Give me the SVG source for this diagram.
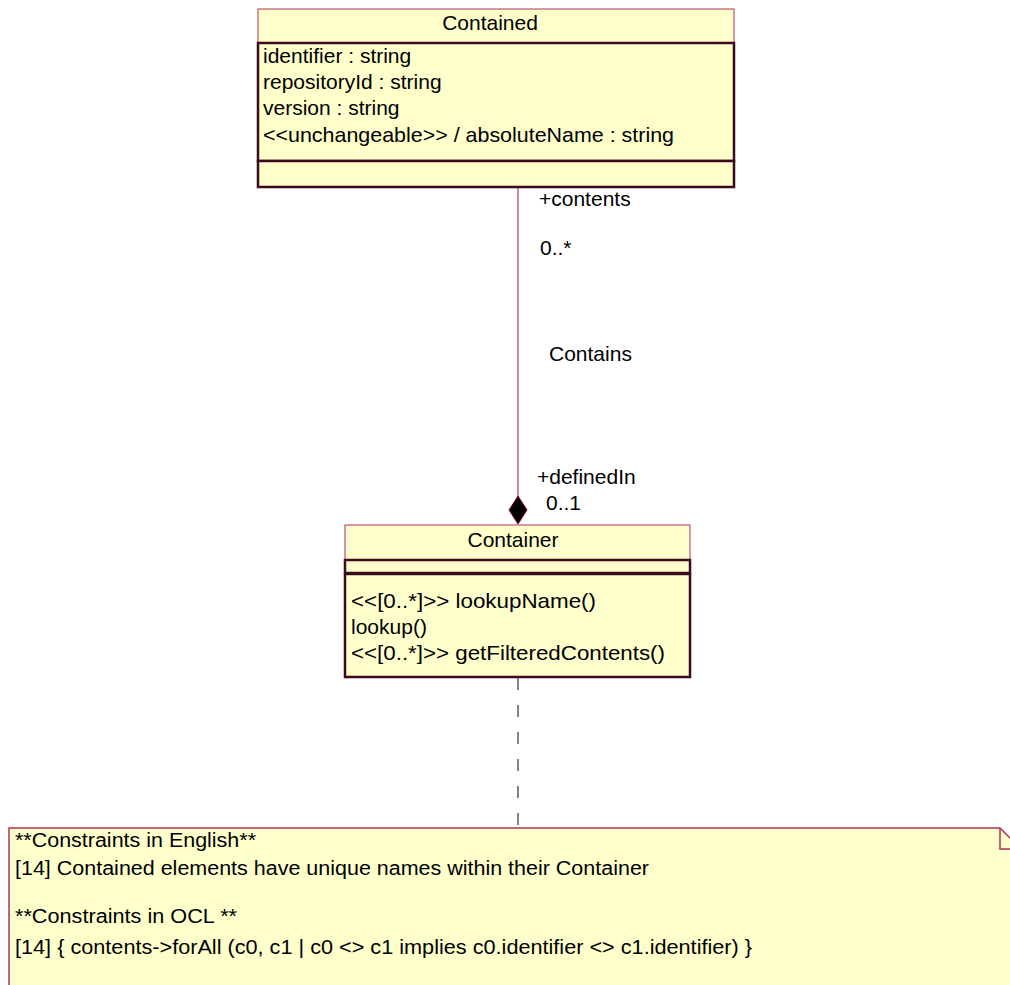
<svg xmlns="http://www.w3.org/2000/svg" width="1010" height="985" viewBox="0 0 1010 985">
  <style>
    .txt { font-family: "Liberation Sans", Arial, sans-serif; font-size: 21px; fill: #000; }
    .note { font-family: "Liberation Sans", Arial, sans-serif; font-size: 20px; fill: #000; }
    .hdr { fill: #ffffcc; stroke: #b0305a; stroke-width: 1; }
    .comp { fill: #ffffcc; stroke: #3c0a1e; stroke-width: 2.5; }
    .assoc { stroke: #c0608a; stroke-width: 1.5; fill: none; }
    .dash { stroke: #333; stroke-width: 1.2; stroke-dasharray: 12 15; fill: none; }
  </style>
  <rect width="1010" height="985" fill="#ffffff"/>

  <!-- connectors -->
  <g id="connectors">
    <line class="assoc" x1="518" y1="187" x2="518" y2="497"/>
    <polygon points="518,496 527,510 518,524 509,510" fill="#000" stroke="#800030" stroke-width="1"/>
    <line class="dash" x1="518" y1="678" x2="518" y2="828"/>
    <text class="txt" x="539" y="206">+contents</text>
    <text class="txt" x="540" y="255">0..*</text>
    <text class="txt" x="549" y="361">Contains</text>
    <text class="txt" x="537" y="484">+definedIn</text>
    <text class="txt" x="546" y="510">0..1</text>
  </g>

  <!-- class Contained -->
  <g id="contained">
    <rect class="hdr" x="258" y="9" width="476" height="34"/>
    <rect class="comp" x="258" y="43" width="476" height="118"/>
    <rect class="comp" x="258" y="161" width="476" height="26"/>
    <text class="txt" x="490" y="30" text-anchor="middle">Contained</text>
    <text class="txt" x="263" y="63">identifier : string</text>
    <text class="txt" x="263" y="89">repositoryId : string</text>
    <text class="txt" x="263" y="115">version : string</text>
    <text class="txt" x="263" y="142" textLength="411" lengthAdjust="spacingAndGlyphs">&lt;&lt;unchangeable&gt;&gt; / absoluteName : string</text>
  </g>

  <!-- class Container -->
  <g id="container">
    <rect class="hdr" x="345" y="525" width="345" height="35"/>
    <rect class="comp" x="345" y="560" width="345" height="13"/>
    <rect class="comp" x="345" y="574" width="345" height="103"/>
    <text class="txt" x="513" y="547" text-anchor="middle">Container</text>
    <text class="txt" x="351" y="608" textLength="245" lengthAdjust="spacingAndGlyphs">&lt;&lt;[0..*]&gt;&gt; lookupName()</text>
    <text class="txt" x="351" y="634">lookup()</text>
    <text class="txt" x="351" y="660" textLength="314" lengthAdjust="spacingAndGlyphs">&lt;&lt;[0..*]&gt;&gt; getFilteredContents()</text>
  </g>

  <!-- constraint note -->
  <g id="note">
    <path d="M9,985 L9,828 L1000,828 L1012,840 L1012,985" fill="#ffffcc" stroke="#b0305a" stroke-width="1.5"/>
    <path d="M1000,828 L1000,849 L1012,849" fill="none" stroke="#b0305a" stroke-width="1.5"/>
    <text class="note" x="15" y="847" textLength="241" lengthAdjust="spacingAndGlyphs">**Constraints in English**</text>
    <text class="note" x="15" y="875" textLength="634" lengthAdjust="spacingAndGlyphs">[14] Contained elements have unique names within their Container</text>
    <text class="note" x="15" y="923" textLength="222" lengthAdjust="spacingAndGlyphs">**Constraints in OCL **</text>
    <text class="note" x="15" y="954" textLength="737" lengthAdjust="spacingAndGlyphs">[14] { contents-&gt;forAll (c0, c1 | c0 &lt;&gt; c1 implies c0.identifier &lt;&gt; c1.identifier)  }</text>
  </g>
</svg>
